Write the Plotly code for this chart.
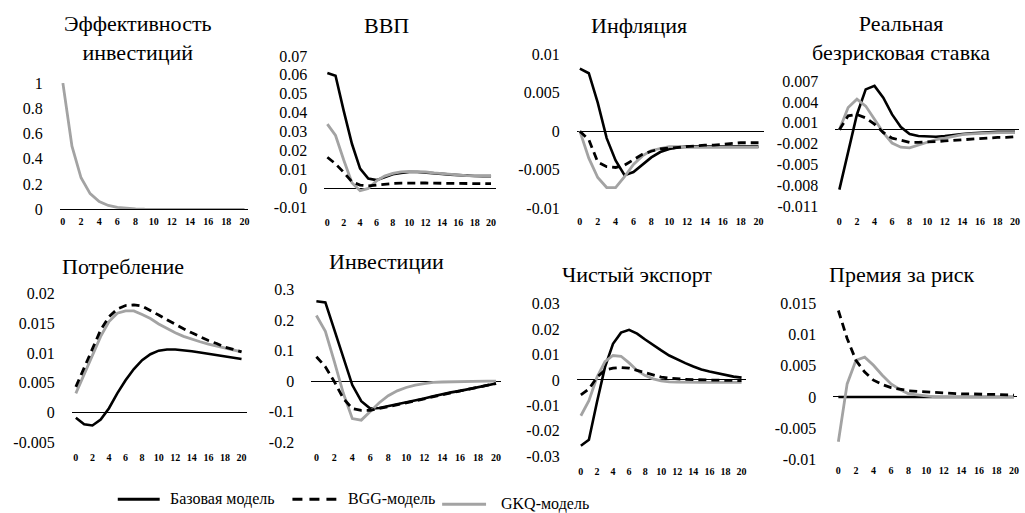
import plotly.graph_objects as go

W, H = 1025, 513
FONT = "Times New Roman, Liberation Serif, Times, serif"

periods = list(range(21))
x_tick_vals = list(range(0, 21, 2))
x_tick_text = [str(v) for v in x_tick_vals]

series_names = ["Базовая модель", "BGG-модель", "GKQ-модель"]

# ---- data ----
eff_gkq = [1, 0.5, 0.25, 0.125, 0.0625, 0.031, 0.016, 0.008, 0.004, 0.002, 0.001,
           0.0005, 0, 0, 0, 0, 0, 0, 0, 0, 0]

gdp_base = [0.061, 0.0595, 0.041, 0.0236, 0.0105, 0.0052, 0.0044, 0.006, 0.0075, 0.0082, 0.0087,
            0.0087, 0.0085, 0.008, 0.0077, 0.0073, 0.007, 0.0068, 0.0066, 0.0065, 0.0065]
gdp_bgg = [0.0165, 0.013, 0.0085, 0.0035, 0.0018, 0.0014, 0.0018, 0.0023, 0.0026, 0.0028, 0.0029,
           0.0029, 0.0029, 0.0028, 0.0028, 0.0027, 0.0027, 0.0026, 0.0026, 0.0025, 0.0025]
gdp_gkq = [0.034, 0.028, 0.015, 0.003, -0.0012, 0.0, 0.004, 0.0065, 0.008, 0.0088, 0.009,
           0.009, 0.0087, 0.0082, 0.0078, 0.0074, 0.0071, 0.0068, 0.0066, 0.0066, 0.0066]

inf_base = [0.0081, 0.0075, 0.0037, -0.0009, -0.0038, -0.0057, -0.0053, -0.0043, -0.0034, -0.0027, -0.0023,
            -0.0021, -0.002, -0.002, -0.002, -0.002, -0.002, -0.002, -0.002, -0.002, -0.002]
inf_bgg = [0.0, -0.0011, -0.004, -0.0046, -0.0047, -0.0044, -0.0037, -0.003, -0.0026, -0.0023, -0.0022,
           -0.0021, -0.002, -0.0019, -0.0018, -0.0018, -0.0017, -0.0016, -0.0015, -0.0015, -0.0015]
inf_gkq = [0.0, -0.0035, -0.006, -0.0073, -0.0073, -0.0059, -0.0043, -0.0032, -0.0025, -0.0022, -0.002,
           -0.002, -0.0021, -0.0021, -0.0021, -0.0021, -0.0021, -0.0021, -0.0021, -0.0021, -0.0021]

rate_base = [-0.0086, -0.0031, 0.0022, 0.0058, 0.0063, 0.0046, 0.0022, 0.0004, -0.0006, -0.0009, -0.001,
             -0.001, -0.0009, -0.0007, -0.0006, -0.0005, -0.0004, -0.0004, -0.0003, -0.0003, -0.0003]
rate_bgg = [0.0, 0.002, 0.0022, 0.0017, 0.0008, -0.0004, -0.0012, -0.0015, -0.0018, -0.0018, -0.0018,
            -0.0017, -0.0016, -0.0015, -0.0014, -0.0013, -0.0012, -0.0012, -0.0011, -0.0011, -0.001]
rate_gkq = [0.0, 0.0032, 0.0044, 0.0034, 0.0015, -0.0004, -0.0019, -0.0025, -0.0026, -0.0022, -0.0017,
            -0.0014, -0.0012, -0.0009, -0.0007, -0.0006, -0.0005, -0.0005, -0.0004, -0.0004, -0.0004]

cons_base = [-0.0009, -0.002, -0.0022, -0.0012, 0.0007, 0.0032, 0.0054, 0.0073, 0.0088, 0.0098, 0.0104,
             0.0106, 0.0106, 0.0105, 0.0103, 0.0101, 0.0099, 0.0097, 0.0095, 0.0093, 0.009]
cons_bgg = [0.0043, 0.0076, 0.0109, 0.0139, 0.0161, 0.0174, 0.018, 0.0181, 0.0179, 0.0172, 0.0164,
            0.0156, 0.0148, 0.0141, 0.0134, 0.0127, 0.0121, 0.0116, 0.011, 0.0106, 0.0102]
cons_gkq = [0.0032, 0.0065, 0.0098, 0.0128, 0.0153, 0.0167, 0.0171, 0.0171, 0.0165, 0.0158, 0.0149,
            0.0141, 0.0134, 0.0128, 0.0123, 0.0119, 0.0115, 0.0112, 0.0109, 0.0105, 0.0102]

inv_base = [0.262, 0.258, 0.168, 0.08, -0.013, -0.066, -0.09, -0.088, -0.082, -0.077, -0.07,
            -0.063, -0.057, -0.05, -0.043, -0.037, -0.032, -0.026, -0.021, -0.015, -0.008]
inv_bgg = [0.08, 0.047, -0.002, -0.057, -0.09, -0.096, -0.096, -0.09, -0.085, -0.079, -0.072,
           -0.065, -0.058, -0.051, -0.044, -0.038, -0.032, -0.026, -0.02, -0.014, -0.008]
inv_gkq = [0.215, 0.163, 0.064, -0.04, -0.123, -0.128, -0.1, -0.071, -0.048, -0.032, -0.021,
           -0.013, -0.008, -0.004, -0.003, -0.002, -0.001, -0.001, 0.0, 0.0, 0.0]

nx_base = [-0.0259, -0.0236, -0.0088, 0.005, 0.0142, 0.0186, 0.0197, 0.0182, 0.0159, 0.0136, 0.0116,
           0.0096, 0.008, 0.0066, 0.0053, 0.0041, 0.0033, 0.0026, 0.002, 0.0013, 0.0009]
nx_bgg = [-0.0059, -0.0036, 0.001, 0.0039, 0.0046, 0.0049, 0.0046, 0.0037, 0.0026, 0.0017, 0.0011,
          0.0007, 0.0004, 0.0002, 0.0001, 0.0, 0.0, -0.0001, -0.0002, -0.0002, -0.0003]
nx_gkq = [-0.0141, -0.0082, 0.001, 0.0072, 0.0096, 0.0093, 0.0067, 0.0037, 0.0017, 0.0004, -0.0004,
          -0.0008, -0.0009, -0.001, -0.001, -0.001, -0.001, -0.001, -0.001, -0.001, -0.001]

prem_base = [0.0] * 21
prem_bgg = [0.0139, 0.0094, 0.0059, 0.004, 0.0027, 0.002, 0.0015, 0.0012, 0.001, 0.0009, 0.0008,
            0.0007, 0.0006, 0.0006, 0.0005, 0.0005, 0.0004, 0.0004, 0.0004, 0.0003, 0.0003]
prem_gkq = [-0.0072, 0.0021, 0.0059, 0.0064, 0.0051, 0.0035, 0.0021, 0.0012, 0.0005, 0.0003, 0.0001,
            0.0, 0.0, 0.0, 0.0, 0.0, 0.0, 0.0, 0.0, 0.0, 0.0]

titles = ["Эффективность<br>инвестиций", "ВВП", "Инфляция", "Реальная<br>безрисковая ставка",
          "Потребление", "Инвестиции", "Чистый экспорт", "Премия за риск"]

y_ticks = [
    [0, 0.2, 0.4, 0.6, 0.8, 1],
    [-0.01, 0, 0.01, 0.02, 0.03, 0.04, 0.05, 0.06, 0.07],
    [-0.01, -0.005, 0, 0.005, 0.01],
    [-0.011, -0.008, -0.005, -0.002, 0.001, 0.004, 0.007],
    [-0.005, 0, 0.005, 0.01, 0.015, 0.02],
    [-0.2, -0.1, 0, 0.1, 0.2, 0.3],
    [-0.03, -0.02, -0.01, 0, 0.01, 0.02, 0.03],
    [-0.01, -0.005, 0, 0.005, 0.01, 0.015],
]
y_tick_text = [
    ["0", "0.2", "0.4", "0.6", "0.8", "1"],
    ["-0.01", "0", "0.01", "0.02", "0.03", "0.04", "0.05", "0.06", "0.07"],
    ["-0.01", "-0.005", "0", "0.005", "0.01"],
    ["-0.011", "-0.008", "-0.005", "-0.002", "0.001", "0.004", "0.007"],
    ["-0.005", "0", "0.005", "0.01", "0.015", "0.02"],
    ["-0.2", "-0.1", "0", "0.1", "0.2", "0.3"],
    ["-0.03", "-0.02", "-0.01", "0", "0.01", "0.02", "0.03"],
    ["-0.01", "-0.005", "0", "0.005", "0.01", "0.015"],
]

panel_data = [
    (None, None, eff_gkq),
    (gdp_base, gdp_bgg, gdp_gkq),
    (inf_base, inf_bgg, inf_gkq),
    (rate_base, rate_bgg, rate_gkq),
    (cons_base, cons_bgg, cons_gkq),
    (inv_base, inv_bgg, inv_gkq),
    (nx_base, nx_bgg, nx_gkq),
    (prem_base, prem_bgg, prem_gkq),
]

# ---- layout geometry (target pixels in the photographed page) ----
# left, right, x0px, x20px, top, bottom, title_x, title_y, xlabel_gap
geom = [
    (60, 248, 63, 245, 82, 208, 138, 37, 3),
    (325, 497, 328, 492, 55, 206, 387, 25, 6),
    (578, 765, 581, 760, 53, 207, 640, 25, 4),
    (837, 1021, 841, 1017, 80, 205, 903, 37, 6),
    (72, 247, 76, 242, 292, 440, 123, 265, 6),
    (312, 502, 317, 497, 288, 440, 387, 260, 6),
    (578, 747, 582, 743, 302, 454, 638, 273, 6),
    (835, 1019, 840, 1016, 302, 457, 903, 273, 2),
]

# the photographed page maps figure y to about 7.2 + 0.964*y; compensate
def py(y):
    return 1 - ((y - 7.2) / 0.964) / H

BLACK = "#000000"
GRAY = "#a3a3a3"

fig = go.Figure()
layout = dict(width=W, height=H, margin=dict(l=0, r=0, t=0, b=0),
              plot_bgcolor="white", paper_bgcolor="white", showlegend=False,
              font=dict(family=FONT, color="black"))
annotations = []

for i, (g, data, yt, ytt, title) in enumerate(zip(geom, panel_data, y_ticks, y_tick_text, titles)):
    left, right, d0, d20, top, bottom, tx, ty, gap = g
    per = (d20 - d0) / 20.0
    xmin = -(d0 - left) / per
    xmax = 20 + (right - d20) / per
    n = i + 1
    xa = "x" if n == 1 else f"x{n}"
    ya = "y" if n == 1 else f"y{n}"
    base, bgg, gkq = data
    if base is not None:
        fig.add_trace(go.Scatter(x=periods, y=base, mode="lines", name=series_names[0],
                                 line=dict(color=BLACK, width=2.6), xaxis=xa, yaxis=ya))
    if gkq is not None:
        fig.add_trace(go.Scatter(x=periods, y=gkq, mode="lines", name=series_names[2],
                                 line=dict(color=GRAY, width=2.8), xaxis=xa, yaxis=ya))
    if bgg is not None:
        fig.add_trace(go.Scatter(x=periods, y=bgg, mode="lines", name=series_names[1],
                                 line=dict(color=BLACK, width=2.8, dash="8px,5px"), xaxis=xa, yaxis=ya))
    xkey = "xaxis" if n == 1 else f"xaxis{n}"
    ykey = "yaxis" if n == 1 else f"yaxis{n}"
    layout[xkey] = dict(domain=[left / W, right / W], range=[xmin, xmax], anchor=ya,
                        showgrid=False, zeroline=False, showline=False,
                        tickvals=x_tick_vals, ticktext=x_tick_text,
                        ticks="outside", ticklen=gap, tickcolor="rgba(0,0,0,0)",
                        tickfont=dict(family=FONT, size=10, color="black", weight="bold"))
    layout[ykey] = dict(domain=[py(bottom), py(top)], range=[yt[0], yt[-1]], anchor=xa,
                        showgrid=False, zeroline=(n != 1), zerolinecolor="black", zerolinewidth=1,
                        showline=False, tickvals=yt, ticktext=ytt,
                        ticks="outside", ticklen=13, tickcolor="rgba(0,0,0,0)",
                        tickfont=dict(family=FONT, size=16, color="black"))
    if n == 1:
        layout[xkey].update(showline=True, linecolor="black", linewidth=1)
    annotations.append(dict(text=title, x=tx / W, y=py(ty), xref="paper", yref="paper",
                            showarrow=False, xanchor="center", yanchor="middle",
                            font=dict(family=FONT, size=22, color="black")))

# ---- legend (drawn manually) ----
legend_items = [
    (118, 160, 497, dict(color=BLACK, width=3), 168, series_names[0]),
    (293, 337, 497, dict(color=BLACK, width=3, dash="10px,7px"), 347, series_names[1]),
    (443, 487, 502, dict(color=GRAY, width=3), 500, series_names[2]),
]
shapes = []
for x0, x1, yy, ln, tx, name in legend_items:
    shapes.append(dict(type="line", xref="paper", yref="paper", x0=x0 / W, x1=x1 / W,
                       y0=py(yy), y1=py(yy), line=ln))
    annotations.append(dict(text=name, x=tx / W, y=py(yy), xref="paper", yref="paper",
                            showarrow=False, xanchor="left", yanchor="middle",
                            font=dict(family=FONT, size=16, color="black")))

layout["annotations"] = annotations
layout["shapes"] = shapes
fig.update_layout(**layout)
fig.write_html("out.html", config={"displayModeBar": False},
               post_script="document.body.style.margin='0';document.body.style.padding='0';")
